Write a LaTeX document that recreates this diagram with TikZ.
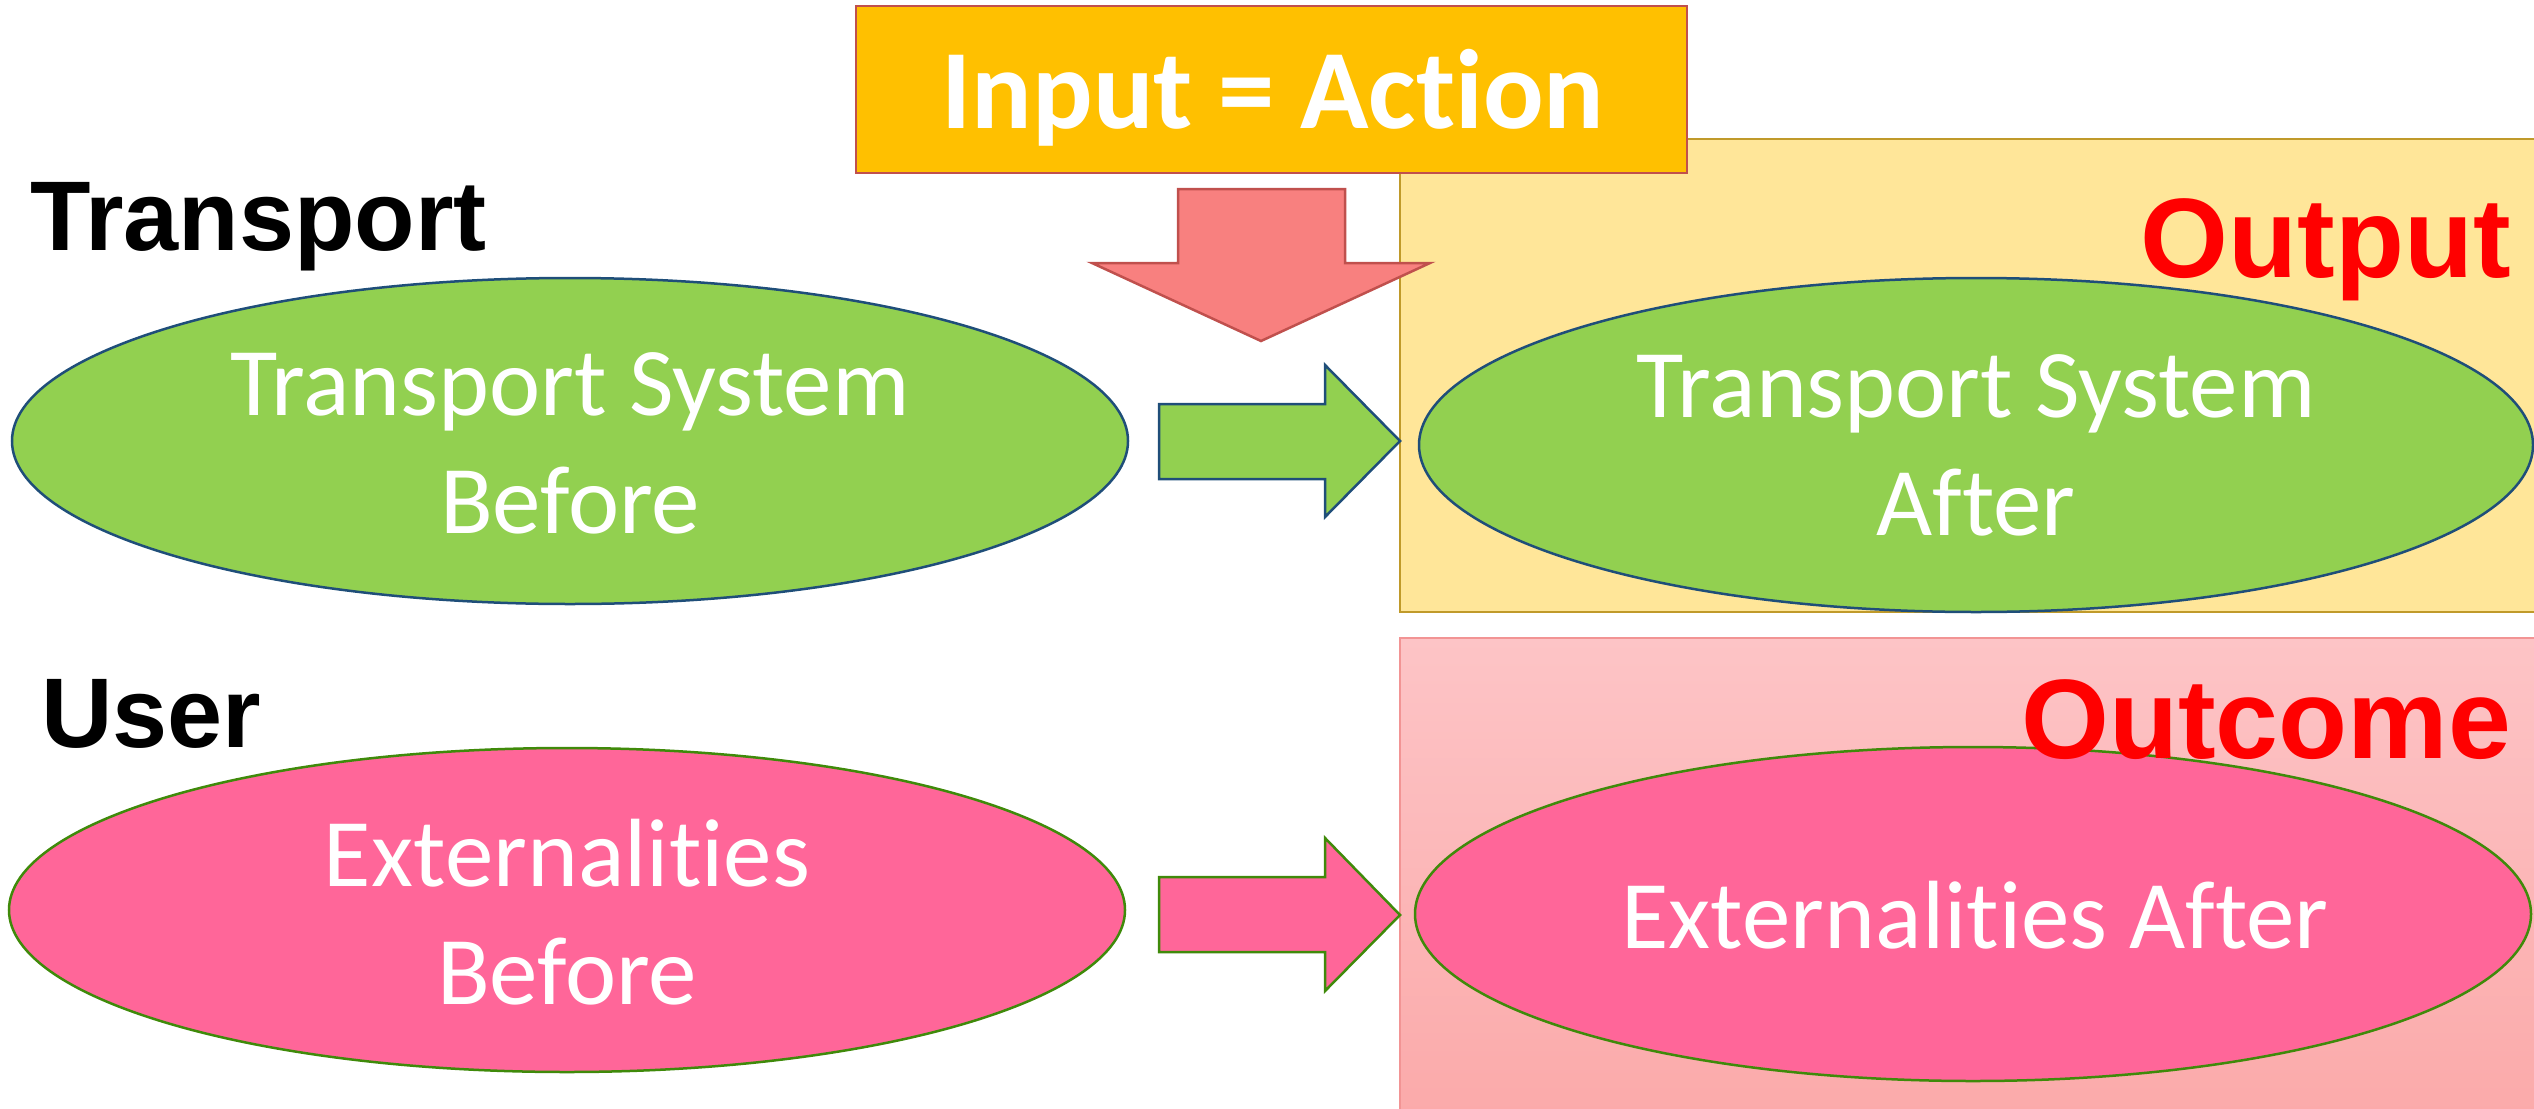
\documentclass[tikz,border=0pt]{standalone}
\usepackage{fontspec}
\setmainfont{Carlito}[Ligatures={NoCommon,NoRare}]
\newfontfamily\arialfont{Liberation Sans}
\usetikzlibrary{shapes.geometric}
\definecolor{inputfill}{HTML}{FFC000}
\definecolor{inputborder}{HTML}{C0504D}
\definecolor{downfill}{HTML}{F8807F}
\definecolor{greenfill}{HTML}{92D050}
\definecolor{blueborder}{HTML}{1F4E79}
\definecolor{pinkfill}{HTML}{FF6699}
\definecolor{greenborder}{HTML}{3F8A0A}
\definecolor{yellowfill}{HTML}{FFE699}
\definecolor{yellowborder}{HTML}{C09A2A}
\definecolor{pinktop}{HTML}{FDC4C6}
\definecolor{pinkbottom}{HTML}{FBAAAA}
\definecolor{pinkborder}{HTML}{F29494}
\definecolor{redtext}{HTML}{FF0000}
\tikzset{
  ovalshape/.style={ellipse, inner sep=0pt, line width=2.5pt},
  greenoval/.style={ovalshape, fill=greenfill, draw=blueborder},
  pinkoval/.style={ovalshape, fill=pinkfill, draw=greenborder},
  ovaltext/.style={text=white, align=center, inner sep=0pt, font=\fontsize{97}{118}\selectfont},
  rowlabel/.style={inner sep=0pt, anchor=base west, font=\arialfont\bfseries\fontsize{99}{110}\selectfont},
  resultlabel/.style={inner sep=0pt, anchor=base east, text=redtext, font=\arialfont\bfseries\fontsize{113}{120}\selectfont},
  greenarrow/.style={fill=greenfill, draw=blueborder, line width=2.5pt, line join=miter},
  pinkarrow/.style={fill=pinkfill, draw=greenborder, line width=2.5pt, line join=miter},
}
\begin{document}
\begin{tikzpicture}[x=1pt,y=-1pt]
\useasboundingbox (0,0) rectangle (2534,1108);
% background boxes
\draw[fill=yellowfill, draw=yellowborder, line width=2pt] (1400,139) rectangle (2545,612);
\shade[top color=pinktop, bottom color=pinkbottom] (1400,638) rectangle (2545,1115);
\draw[pinkborder, line width=2pt] (2545,638) -- (1400,638) -- (1400,1115);
% ellipses
\node[greenoval, minimum width=1116pt, minimum height=326pt] (tsb) at (570,441) {};
\node[greenoval, minimum width=1114pt, minimum height=334pt] (tsa) at (1976,445) {};
\node[pinkoval, minimum width=1116pt, minimum height=324pt] (exb) at (567,910) {};
\node[pinkoval, minimum width=1116pt, minimum height=334pt] (exa) at (1973,914) {};
\node[ovaltext] (tsbtext) at (570,443) {Transport System\\Before};
\node[ovaltext] (tsatext) at (1976,445) {Transport System\\After};
\node[ovaltext] (exbtext) at (567,912) {Externalities\\Before};
\node[ovaltext] (exatext) at (1975,915) {Externalities After};
% right arrows
\coordinate (g1) at (1400,441);
\coordinate (p1) at (1400,915);
\draw[greenarrow] (1159,404) -- (1325,404) -- (1325,365) -- (g1) -- (1325,517) -- (1325,479) -- (1159,479) -- cycle;
\draw[pinkarrow] (1159,877) -- (1325,877) -- (1325,838) -- (p1) -- (1325,991) -- (1325,952) -- (1159,952) -- cycle;
% input box and down arrow
\node[fill=inputfill, draw=inputborder, line width=2.5pt, minimum width=831pt, minimum height=167pt, inner sep=0pt] (input) at (1271.5,89.5) {};
\node[text=white, inner sep=0pt, anchor=base, font=\bfseries\fontsize{113}{120}\selectfont] (inputtext) at (1273,128) {Input = Action};
\coordinate (downtip) at (1261,341);
\draw[fill=downfill, draw=inputborder, line width=2.5pt, line join=miter] (1178,189) -- (1345,189) -- (1345,263) -- (1430,263) -- (downtip) -- (1092,263) -- (1178,263) -- cycle;
% labels
\node[rowlabel] (transport) at (30,250) {Transport};
\node[rowlabel] (user) at (41,747) {User};
\node[resultlabel] (output) at (2511,277) {Output};
\node[resultlabel] (outcome) at (2511,758) {Outcome};
\end{tikzpicture}
\end{document}
